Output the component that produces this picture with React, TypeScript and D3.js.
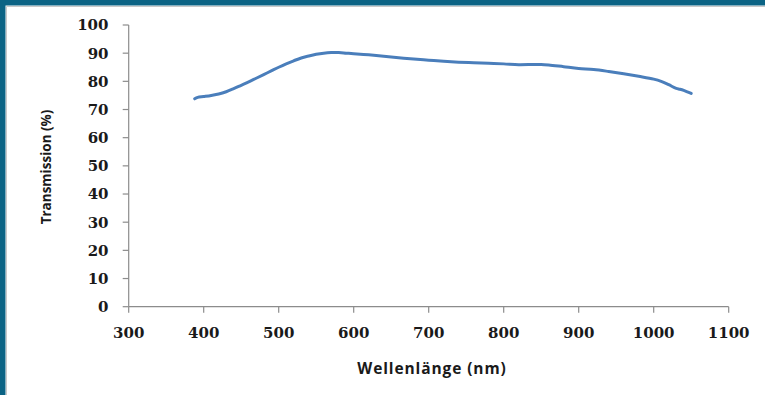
import React from "react";
import * as d3 from "d3";

const wavelengths = [388, 392, 400, 410, 420, 430, 440, 450, 460, 470, 480, 490, 500, 510, 520, 530, 540, 550, 560, 570, 580, 590, 600, 620, 640, 660, 680, 700, 720, 740, 760, 780, 800, 820, 840, 850, 860, 880, 900, 920, 940, 960, 980, 1000, 1010, 1020, 1030, 1035, 1040, 1050];
const transmission = [73.8, 74.3, 74.6, 75.0, 75.5, 76.3, 77.4, 78.6, 79.8, 81.1, 82.4, 83.7, 85.0, 86.2, 87.3, 88.3, 89.0, 89.6, 90.0, 90.2, 90.2, 90.0, 89.8, 89.4, 88.9, 88.4, 87.9, 87.5, 87.1, 86.8, 86.6, 86.4, 86.2, 85.9, 86.0, 86.0, 85.8, 85.2, 84.6, 84.2, 83.5, 82.7, 81.8, 80.8, 80.0, 78.8, 77.5, 77.2, 76.8, 75.7];
const xTicks = [300, 400, 500, 600, 700, 800, 900, 1000, 1100];
const yTicks = [0, 10, 20, 30, 40, 50, 60, 70, 80, 90, 100];
const xTitle = "Wellenlänge (nm)";
const yTitle = "Transmission (%)";

export default function App() {
  const W = 765, H = 395;
  const x = d3.scaleLinear().domain([300, 1100]).range([128.7, 728.7]);
  const y = d3.scaleLinear().domain([0, 100]).range([306.7, 25]);
  const pts = wavelengths.map((w, i) => [w, transmission[i]] as [number, number]);
  const line = d3.line<[number, number]>().x(d => x(d[0])).y(d => y(d[1])).curve(d3.curveCatmullRom);
  const axisColor = "#8c8c8c";
  const tickFont = { fontFamily: "'DejaVu Serif', serif", fontWeight: 700, fontSize: 15, fill: "#1a1a1a" } as const;
  return (
    <svg width={W} height={H} style={{ position: "absolute", left: 0, top: 0, background: "#fff" }}>
      <rect x={0} y={0} width={W} height={H} fill="#fff" />
      <rect x={0} y={0} width={W} height={5.5} fill="#0b6384" />
      <rect x={0} y={0} width={5.5} height={H} fill="#0b6384" />
      <line x1={6.5} y1={6.5} x2={W} y2={6.5} stroke="#c8c8c8" strokeWidth={1} />
      <line x1={6.5} y1={6.5} x2={6.5} y2={H} stroke="#c8c8c8" strokeWidth={1} />
      <line x1={x(300)} y1={y(0)} x2={x(1100)} y2={y(0)} stroke={axisColor} strokeWidth={1.2} />
      <line x1={x(300)} y1={y(0)} x2={x(300)} y2={y(100)} stroke={axisColor} strokeWidth={1.2} />
      {yTicks.map(t => (
        <g key={"y" + t}>
          <line x1={x(300) - 6} x2={x(300)} y1={y(t)} y2={y(t)} stroke={axisColor} strokeWidth={1.2} />
          <text x={108.5} y={y(t)} dy="0.36em" textAnchor="end" {...tickFont}>{t}</text>
        </g>
      ))}
      {xTicks.map(t => (
        <g key={"x" + t}>
          <line x1={x(t)} x2={x(t)} y1={y(0)} y2={y(0) + 6} stroke={axisColor} strokeWidth={1.2} />
          <text x={x(t)} y={337.5} textAnchor="middle" {...tickFont}>{t}</text>
        </g>
      ))}
      <path d={line(pts) || ""} fill="none" stroke="#4a7ebb" strokeWidth={3} strokeLinecap="round" strokeLinejoin="round" />
      <text x={432} y={373.5} textAnchor="middle" fontFamily="'Open Sans', sans-serif" fontWeight={700} fontSize={15.5} letterSpacing={0.9} fill="#1a1a1a">{xTitle}</text>
      <text transform={`translate(51,167) rotate(-90)`} textAnchor="middle" fontFamily="'Open Sans', sans-serif" fontWeight={700} fontSize={13.5} fill="#1a1a1a">{yTitle}</text>
    </svg>
  );
}
